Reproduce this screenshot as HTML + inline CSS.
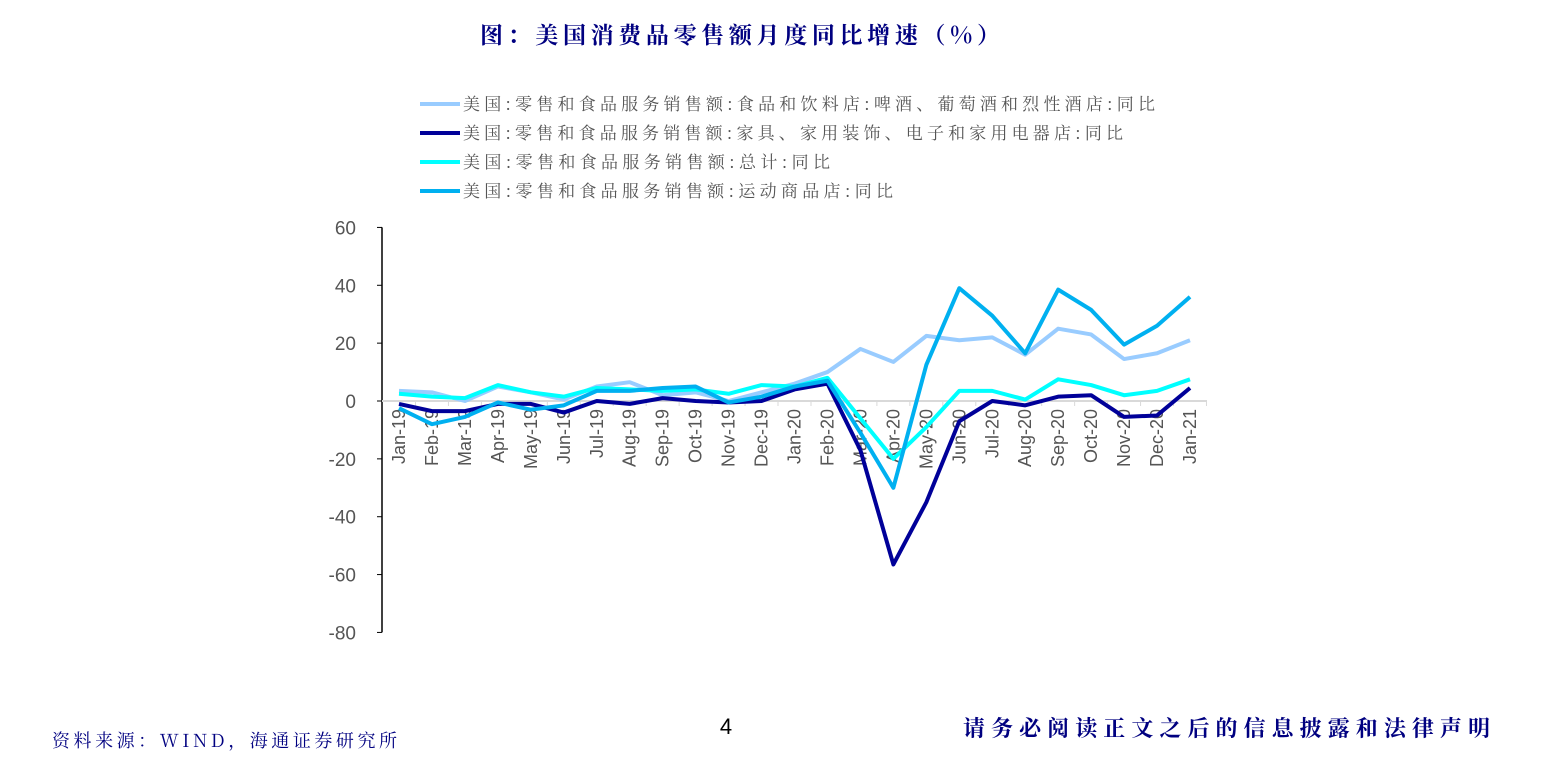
<!DOCTYPE html>
<html><head><meta charset="utf-8">
<style>
body{margin:0;width:1560px;height:771px;background:#fff;overflow:hidden;font-family:"Liberation Sans","Noto Serif CJK SC",serif;}
svg{position:absolute;left:0;top:0}
</style></head>
<body>
<svg id="c" width="1560" height="771">
<text x="480" y="43" textLength="520" lengthAdjust="spacing" font-size="23" font-weight="bold" fill="#000080" font-family="Noto Serif CJK SC, serif">图：美国消费品零售额月度同比增速（%）</text>
<g id="legend"></g>
<g id="axes"></g>
<g id="series"></g>
<text x="52" y="747" textLength="345" lengthAdjust="spacing" font-size="18" fill="#000080" font-family="Noto Serif CJK SC, serif">资料来源：WIND，海通证券研究所</text>
<text x="726" y="734" text-anchor="middle" font-size="22" fill="#000">4</text>
<text x="963" y="736" textLength="527" lengthAdjust="spacing" font-size="22" font-weight="bold" fill="#000080" font-family="Noto Serif CJK SC, serif">请务必阅读正文之后的信息披露和法律声明</text>
</svg>
<script>
const categories=["Jan-19","Feb-19","Mar-19","Apr-19","May-19","Jun-19","Jul-19","Aug-19","Sep-19","Oct-19","Nov-19","Dec-19","Jan-20","Feb-20","Mar-20","Apr-20","May-20","Jun-20","Jul-20","Aug-20","Sep-20","Oct-20","Nov-20","Dec-20","Jan-21"];
const foodDrink=[3.5,3,0,5,3,0.5,5,6.5,2,3,0,3,6,10,18,13.5,22.5,21,22,16,25,23,14.5,16.5,21];
const furniture=[-1,-3.5,-3.5,-1,-1,-4,0,-1,1,0,-0.5,0,4,6,-17,-56.5,-35,-7,0,-1.5,1.5,2,-5.5,-5,4.5];
const total=[2.5,1.5,1,5.5,3,1.5,4.5,4,3.5,4,2.5,5.5,5,8,-6,-20,-9,3.5,3.5,0.5,7.5,5.5,2,3.5,7.5];
const sporting=[-2.5,-8,-5.5,-0.5,-3,-1.5,3.5,3.5,4.5,5,-0.5,1.5,5,7,-11,-30,12.5,39,29.5,16.5,38.5,31.5,19.5,26,36];
const yTicks=[60,40,20,0,-20,-40,-60,-80];
const seriesNames=["美国:零售和食品服务销售额:食品和饮料店:啤酒、葡萄酒和烈性酒店:同比","美国:零售和食品服务销售额:家具、家用装饰、电子和家用电器店:同比","美国:零售和食品服务销售额:总计:同比","美国:零售和食品服务销售额:运动商品店:同比"];
const legendLens=[692,660,367,430];
const colors=["#99ccff","#000099","#00ffff","#00b0f0"];
const NS="http://www.w3.org/2000/svg";
const X0=399,DX=(1190-399)/24;
const xs=i=>X0+i*DX;
const ys=v=>401-v*(405/140);
function mk(t,a,p){const e=document.createElementNS(NS,t);for(const k in a)e.setAttribute(k,a[k]);p.appendChild(e);return e;}
const ax=document.getElementById('axes');
let l=mk('line',{x1:382,y1:ys(60),x2:382,y2:ys(-80),stroke:'#000','stroke-width':1.5},ax);


yTicks.forEach(v=>{
 const t=mk('line',{x1:377,y1:ys(v),x2:382,y2:ys(v),stroke:'#000'},ax);
 
 
 const tx=mk('text',{x:356,y:ys(v)+7,'text-anchor':'end','font-size':19,fill:'#555'},ax);tx.textContent=v;
 
 
});
l=mk('line',{x1:382,y1:ys(0),x2:1207,y2:ys(0),stroke:'#d9d9d9','stroke-width':2},ax);


categories.forEach((c,i)=>{
 const tk=mk('line',{x1:xs(i)+DX/2,y1:ys(0),x2:xs(i)+DX/2,y2:ys(0)+5,stroke:'#d9d9d9'},ax);
 
 
 const tx=mk('text',{x:0,y:0,'text-anchor':'end','font-size':18,fill:'#555',transform:`translate(${xs(i)+6},${ys(0)+8}) rotate(-90)`},ax);tx.textContent=c;
 
 
});
const sg=document.getElementById('series');
[foodDrink,furniture,total,sporting].forEach((d,k)=>{
 const p=mk('polyline',{points:d.map((v,i)=>xs(i)+','+ys(v)).join(' '),fill:'none',stroke:colors[k],'stroke-width':4,'stroke-linejoin':'round'},sg);
 
 
});
const lg=document.getElementById('legend');
seriesNames.forEach((n,k)=>{
 const y=104+k*29;
 const ln=mk('line',{x1:420,y1:y,x2:460,y2:y,stroke:colors[k],'stroke-width':4},lg);
 
 
 const tx=mk('text',{x:463,y:y+6,'font-size':17,fill:'#555','font-family':'Noto Serif CJK SC, serif',textLength:legendLens[k],lengthAdjust:'spacing'},lg);tx.textContent=n;
 
 
});
</script>
</body></html>
